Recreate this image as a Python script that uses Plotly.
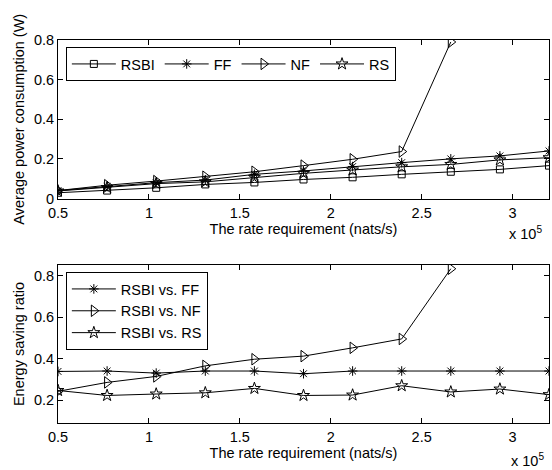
import plotly.graph_objects as go

# ---- data ----
rate = [0.5, 0.77, 1.04, 1.31, 1.58, 1.85, 2.12, 2.39, 2.66, 2.93, 3.2]  # x 10^5 nats/s

p_rsbi = [0.029, 0.040, 0.054, 0.071, 0.081, 0.096, 0.107, 0.122, 0.135, 0.147, 0.166]
p_ff   = [0.040, 0.060, 0.080, 0.093, 0.122, 0.139, 0.161, 0.181, 0.200, 0.215, 0.240]
p_nf   = [0.040, 0.067, 0.088, 0.110, 0.135, 0.166, 0.198, 0.237, 0.790]
p_rs   = [0.038, 0.055, 0.075, 0.084, 0.107, 0.127, 0.144, 0.160, 0.172, 0.195, 0.206]

s_ff = [0.338, 0.340, 0.330, 0.340, 0.340, 0.327, 0.340, 0.340, 0.340, 0.340, 0.340]
s_nf = [0.242, 0.285, 0.314, 0.365, 0.397, 0.412, 0.452, 0.495, 0.834]
s_rs = [0.246, 0.222, 0.229, 0.235, 0.256, 0.222, 0.224, 0.269, 0.239, 0.253, 0.226]

top_names = ["RSBI", "FF", "NF", "RS"]
bot_names = ["RSBI vs. FF", "RSBI vs. NF", "RSBI vs. RS"]
x_ticks = [0.5, 1, 1.5, 2, 2.5, 3]
x_ticklabels = ["0.5", "1", "1.5", "2", "2.5", "3"]
top_yticks = [0, 0.2, 0.4, 0.6, 0.8]
top_yticklabels = ["0", "0.2", "0.4", "0.6", "0.8"]
bot_yticks = [0.2, 0.4, 0.6, 0.8]
bot_yticklabels = ["0.2", "0.4", "0.6", "0.8"]

FONT = "Liberation Sans, Arial, sans-serif"
FS = 14.5

fig = go.Figure()

def add(x, y, name, sym, size, xa, ya, legend):
    fig.add_trace(go.Scatter(
        x=x[:len(y)], y=y, name=name, mode="lines+markers",
        line=dict(color="black", width=1),
        marker=dict(symbol=sym, size=size, color="black",
                    line=dict(color="black", width=1)),
        xaxis=xa, yaxis=ya, legend=legend))

add(rate, p_rsbi, top_names[0], "square-open", 7, "x", "y", "legend")
add(rate, p_ff, top_names[1], "asterisk-open", 8, "x", "y", "legend")
add(rate, p_nf, top_names[2], "triangle-right-open", 10, "x", "y", "legend")
add(rate, p_rs, top_names[3], "star-open", 9, "x", "y", "legend")

add(rate, s_ff, bot_names[0], "asterisk-open", 8, "x2", "y2", "legend2")
add(rate, s_nf, bot_names[1], "triangle-right-open", 10, "x2", "y2", "legend2")
add(rate, s_rs, bot_names[2], "star-open", 9, "x2", "y2", "legend2")

axis_common = dict(showline=True, linecolor="black", linewidth=1, mirror="ticks",
                   ticks="inside", ticklen=5, tickcolor="black", showgrid=False,
                   zeroline=False, tickfont=dict(family=FONT, size=FS, color="black"))

H = 470
mt, mb = 40, 47
ph = H - mt - mb
top_lo = (H - mb - 198.5) / ph
bot_hi = (H - mb - 265) / ph

fig.update_layout(
    width=552, height=470,
    margin=dict(l=58, r=3, t=mt, b=mb, autoexpand=False),
    paper_bgcolor="white", plot_bgcolor="white",
    font=dict(family=FONT, size=FS, color="black"),
    xaxis=dict(domain=[0, 1], range=[0.5, 3.2], tickvals=x_ticks, ticktext=x_ticklabels,
               anchor="y", ticklabelstandoff=1,
               title=dict(text="The rate requirement (nats/s)", standoff=1,
                          font=dict(size=FS)), **axis_common),
    yaxis=dict(domain=[top_lo, 1], range=[0, 0.8], tickvals=top_yticks,
               ticktext=top_yticklabels, anchor="x",
               title=dict(text="Average power consumption (W)", standoff=5,
                          font=dict(size=FS)), **axis_common),
    xaxis2=dict(domain=[0, 1], range=[0.5, 3.2], tickvals=x_ticks, ticktext=x_ticklabels,
                anchor="y2", ticklabelstandoff=1,
                title=dict(text="The rate requirement (nats/s)", standoff=1,
                           font=dict(size=FS)), **axis_common),
    yaxis2=dict(domain=[0, bot_hi], range=[0.089, 0.852], tickvals=bot_yticks,
                ticktext=bot_yticklabels, anchor="x2",
                title=dict(text="Energy saving ratio", standoff=5, font=dict(size=FS)),
                **axis_common),
    legend=dict(orientation="h", x=0.016, y=1 - (47 - mt) / ph, xanchor="left", yanchor="top",
                bgcolor="white", bordercolor="black", borderwidth=1,
                font=dict(family=FONT, size=FS), itemwidth=44,
                tracegroupgap=0),
    legend2=dict(orientation="v", x=0.016, y=(H - mb - 272) / ph, xanchor="left", yanchor="top",
                 bgcolor="white", bordercolor="black", borderwidth=1,
                 font=dict(family=FONT, size=FS), itemwidth=44, tracegroupgap=0),
    showlegend=True,
)

fig.add_annotation(text="x 10<sup>5</sup>", xref="paper", yref="y domain",
                   x=(544 - 58) / 491, y=-0.22, showarrow=False, xanchor="right",
                   yanchor="middle", font=dict(family=FONT, size=FS))
fig.add_annotation(text="x 10<sup>5</sup>", xref="paper", yref="y2 domain",
                   x=(546 - 58) / 491, y=-0.232, showarrow=False, xanchor="right",
                   yanchor="middle", font=dict(family=FONT, size=FS))

fig.write_html("out.html")
